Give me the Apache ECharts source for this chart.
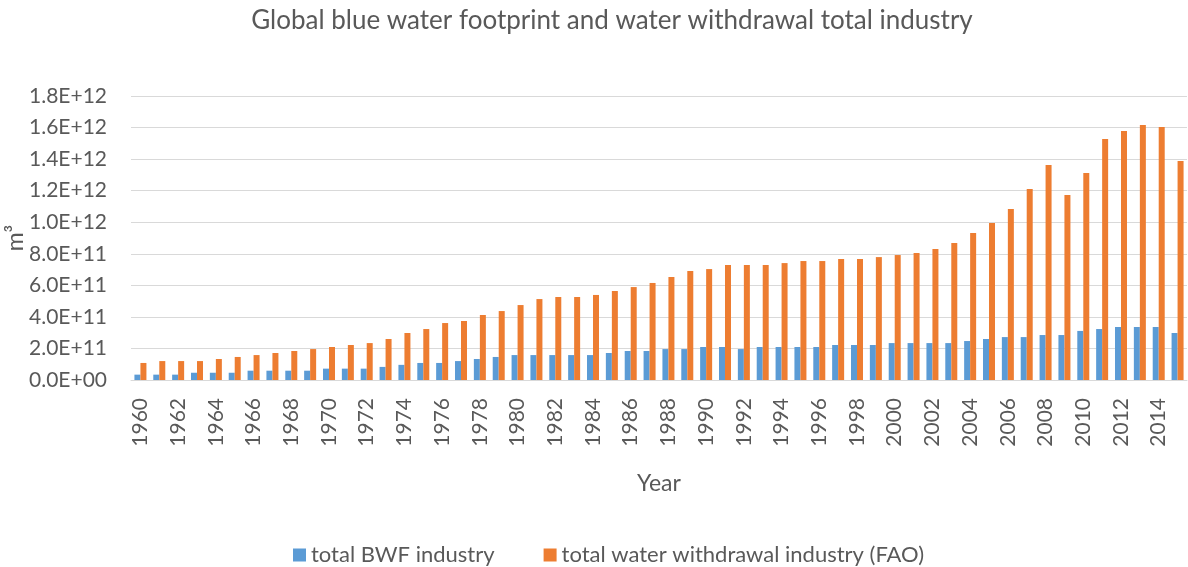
<!DOCTYPE html>
<html>
<head>
<meta charset="utf-8">
<script src="https://cdn.jsdelivr.net/npm/echarts@6/dist/echarts.min.js"></script>
<style>
  html, body { margin: 0; padding: 0; background: #fff; }
  #chart { width: 1188px; height: 567px; }
</style>
</head>
<body>
<div id="chart"></div>
<script>
// years on the x axis
var years = [];
for (var y = 1960; y <= 2015; y++) years.push(String(y));

// total BWF industry (m3)
var bwf = [
  3.4e10, 3.4e10, 3.4e10, 4.6e10, 4.6e10, 4.6e10, 5.9e10, 5.9e10, 5.9e10, 5.9e10,
  7.2e10, 7.2e10, 7.2e10, 8.3e10, 9.6e10, 1.08e11, 1.08e11, 1.20e11, 1.33e11, 1.46e11,
  1.58e11, 1.58e11, 1.58e11, 1.58e11, 1.58e11, 1.71e11, 1.84e11, 1.84e11, 1.96e11, 1.96e11,
  2.09e11, 2.09e11, 1.96e11, 2.09e11, 2.09e11, 2.09e11, 2.09e11, 2.22e11, 2.22e11, 2.22e11,
  2.34e11, 2.34e11, 2.34e11, 2.34e11, 2.47e11, 2.60e11, 2.72e11, 2.72e11, 2.85e11, 2.85e11,
  3.11e11, 3.23e11, 3.36e11, 3.36e11, 3.36e11, 2.98e11
];

// total water withdrawal industry (FAO)
var fao = [
  1.08e11, 1.20e11, 1.20e11, 1.20e11, 1.33e11, 1.46e11, 1.58e11, 1.71e11, 1.84e11, 1.96e11,
  2.09e11, 2.22e11, 2.34e11, 2.60e11, 2.98e11, 3.23e11, 3.61e11, 3.74e11, 4.12e11, 4.37e11,
  4.75e11, 5.13e11, 5.26e11, 5.26e11, 5.39e11, 5.64e11, 5.89e11, 6.15e11, 6.53e11, 6.91e11,
  7.03e11, 7.29e11, 7.29e11, 7.29e11, 7.41e11, 7.54e11, 7.54e11, 7.67e11, 7.67e11, 7.79e11,
  7.92e11, 8.05e11, 8.30e11, 8.68e11, 9.32e11, 9.95e11, 1.084e12, 1.210e12, 1.362e12, 1.172e12,
  1.312e12, 1.527e12, 1.578e12, 1.616e12, 1.603e12, 1.388e12
];

var seriesNames = ['total BWF industry', 'total water withdrawal industry (FAO)'];

// y axis ticks 0 .. 1.8E+12 step 2E+11
var yMin = 0, yMax = 1.8e12, yStep = 2e11;

var textColor = '#595959';
var fontFam = 'Lato, "Open Sans", sans-serif';

// Excel style 1.8E+12 labels
function sci(v) {
  if (v === 0) return '0.0E+00';
  var s = v.toExponential(1).split('e');
  var exp = parseInt(s[1], 10);
  var sign = exp < 0 ? '-' : '+';
  exp = Math.abs(exp);
  return s[0] + 'E' + sign + (exp < 10 ? '0' + exp : exp);
}

var chart = echarts.init(document.getElementById('chart'));

var option = {
  animation: false,
  textStyle: { fontFamily: fontFam },
  title: {
    text: 'Global blue water footprint and water withdrawal total industry',
    left: 607,
    top: 3,
    textAlign: 'center',
    textStyle: { fontFamily: fontFam, fontSize: 26, fontWeight: 'normal', color: textColor }
  },
  legend: {
    data: seriesNames,
    left: 288,
    top: 539,
    itemWidth: 13,
    itemHeight: 13,
    itemGap: 49,
    icon: 'rect',
    textStyle: { fontFamily: fontFam, fontSize: 22, color: textColor }
  },
  grid: {
    left: 131,
    right: 1,
    top: 96,
    bottom: 187,
    containLabel: false,
    outerBoundsMode: 'none'
  },
  xAxis: {
    type: 'category',
    data: years,
    name: 'Year',
    nameLocation: 'middle',
    nameGap: 92,
    nameMoveOverlap: false,
    nameTextStyle: { fontFamily: fontFam, fontSize: 23, color: textColor },
    axisLine: { lineStyle: { color: '#D9D9D9', width: 1 } },
    axisTick: { show: false },
    axisLabel: {
      interval: 1,
      rotate: 90,
      margin: 18,
      fontFamily: fontFam,
      fontSize: 21,
      color: textColor
    }
  },
  yAxis: {
    type: 'value',
    min: yMin,
    max: yMax,
    interval: yStep,
    name: 'm\u00B3',
    nameLocation: 'middle',
    nameGap: 104,
    nameMoveOverlap: false,
    nameRotate: 90,
    nameTextStyle: { fontFamily: fontFam, fontSize: 23, color: textColor },
    axisLine: { show: false },
    axisTick: { show: false },
    splitLine: { lineStyle: { color: '#D9D9D9', width: 1 } },
    axisLabel: {
      margin: 24,
      fontFamily: fontFam,
      fontSize: 21,
      color: textColor,
      formatter: sci
    }
  },
  series: [
    {
      name: seriesNames[0],
      type: 'bar',
      data: bwf,
      barWidth: 6,
      barGap: '0%',
      itemStyle: { color: '#5B9BD5' }
    },
    {
      name: seriesNames[1],
      type: 'bar',
      data: fao,
      barWidth: 6,
      barGap: '0%',
      itemStyle: { color: '#ED7D31' }
    }
  ]
};

chart.setOption(option);
</script>
</body>
</html>
